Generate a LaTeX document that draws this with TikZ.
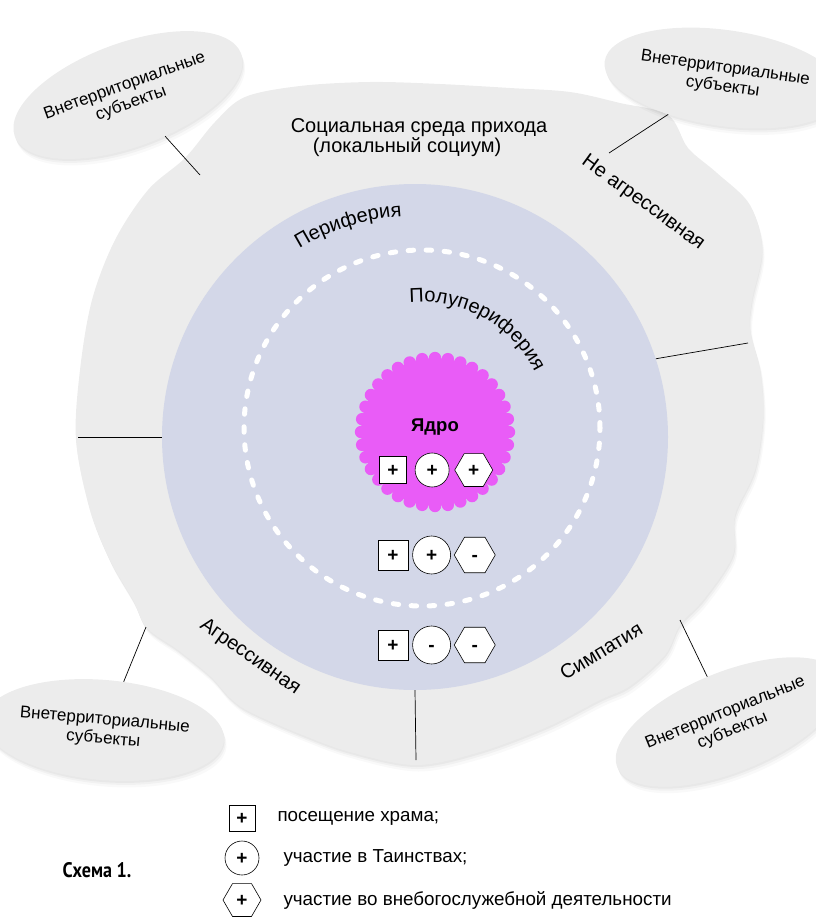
\documentclass[tikz,border=0pt]{standalone}
\usepackage{fontspec}
\setmainfont{Liberation Sans}
\newfontfamily\schemefont[FakeStretch=0.86]{PT Sans}
\usetikzlibrary{positioning,shapes.geometric,shadows,decorations.text}

\definecolor{socium}{RGB}{236,236,236}
\definecolor{periblue}{RGB}{211,215,232}
\definecolor{coremag}{RGB}{233,92,247}
\definecolor{outgray}{RGB}{236,236,236}

\begin{document}
\begin{tikzpicture}[
      x=1pt, y=1pt,
      haze/.style={general shadow={fill=black, opacity=0.035, shadow xshift=0.5pt, shadow yshift=-2pt},
                   general shadow={fill=black, opacity=0.03, shadow xshift=1.5pt, shadow yshift=-4pt},
                   general shadow={fill=black, opacity=0.025, shadow xshift=2.5pt, shadow yshift=-6.5pt}},
      extsubj/.style={ellipse, fill=outgray, haze, align=center, inner sep=0pt, font=\fontsize{17}{19}\selectfont},
      zone/.style={font=\fontsize{20}{20}\selectfont},
      sign/.style={inner sep=0pt, text height=12.5pt, text depth=0pt, font=\bfseries\fontsize{19}{19}\selectfont},
      attbox/.style={sign, rectangle, draw, fill=white, line width=0.6pt, minimum size=30pt},
      attcirc/.style={sign, circle, draw, fill=white, line width=0.6pt, minimum size=38pt},
      atthex/.style={sign, regular polygon, regular polygon sides=6, draw, fill=white, line width=0.6pt, minimum size=41pt},
      link/.style={draw, line width=0.7pt},
      legtext/.style={anchor=west, inner sep=0pt, font=\fontsize{18.8}{20}\selectfont}
  ]
  \useasboundingbox (0,0) rectangle (816,-924);
  % Social environment (cloud)
  \path[fill=socium, haze] plot[smooth cycle, tension=0.55] coordinates {
      (185,-158) (215,-122) (245,-97) (300,-86) (370,-82) (440,-84) (510,-88) (570,-92)
      (620,-103) (668,-115) (688,-148) (717,-173) (750,-205) (762,-250) (752,-300)
      (750,-330) (760,-370) (763,-417) (755,-470) (735,-515) (733,-555) (705,-598)
      (680,-625) (665,-655) (630,-686) (600,-700) (547,-727) (480,-752) (416,-765)
      (350,-752) (300,-734) (250,-712) (230,-698) (210,-676) (178,-650) (147,-628)
      (133,-600) (110,-560) (90,-510) (76,-440) (80,-370) (92,-300) (115,-240) (148,-190)};
  % Periphery
  \node[circle, fill=periblue, minimum size=506pt, inner sep=0pt] (peri) at (415,-437) {};
  % Semi-periphery
  \draw[white, line width=5pt, line cap=round, dash pattern=on 5.5pt off 12.5pt] (422,-428) circle (178);
  % Core
  \fill[coremag] (435,-432) circle (74);
  \foreach \a in {0,10,...,350}
    \fill[coremag] (435,-432) ++(\a:74) circle (6.2);
  \node[font=\bfseries\fontsize{18.5}{20}\selectfont] (core) at (435,-427) {Ядро};

  % Zone labels
  \node[zone, align=center] (soc) at (419,-138) {Социальная среда прихода\\\hspace*{-24pt}(локальный социум)};
  \path[decorate, decoration={text along path, text align=center,
        text={|\fontsize{20}{20}\selectfont|Периферия}}] (415,-437) ++(141:221) arc (141:74:221);
  \path[decorate, decoration={text along path, text align=center,
        text={|\fontsize{20}{20}\selectfont|Полупериферия}}] (422,-428) ++(112:126) arc (112:10:126);
  \node[zone, rotate=-36] (calm) at (643,-203) {Не агрессивная};
  \node[zone, rotate=-35] (aggr) at (250,-657) {Агрессивная};
  \node[zone, rotate=31] (symp) at (601,-651) {Симпатия};

  % Attribute rows
  \node[attbox, minimum size=27pt] (csq) at (393,-470) {+};
  \node[attcirc, minimum size=34pt, right=8pt of csq] (ccirc) {+};
  \node[atthex, minimum size=38pt, right=5pt of ccirc] (chex) {+};
  \node[attbox] (ssq) at (393,-555) {+};
  \node[attcirc, right=4pt of ssq] (scirc) {+};
  \node[atthex, right=3pt of scirc] (shex) {-};
  \node[attbox] (psq) at (393,-645) {+};
  \node[attcirc, right=4pt of psq] (pcirc) {-};
  \node[atthex, right=3pt of pcirc] (phex) {-};

  % Extraterritorial subjects
  \node[extsubj, minimum width=184pt, minimum height=104pt, rotate=20] (ext1) at (128,-95) {Внетерриториальные\\субъекты};
  \node[extsubj, minimum width=180pt, minimum height=96pt, rotate=-8] (ext2) at (724,-78) {Внетерриториальные\\субъекты};
  \node[extsubj, minimum width=194pt, minimum height=100pt, rotate=-5] (ext3) at (104,-730) {Внетерриториальные\\субъекты};
  \node[extsubj, minimum width=184pt, minimum height=100pt, rotate=22] (ext4) at (729,-722) {Внетерриториальные\\субъекты};

  % Connectors
  \coordinate (t1) at (200,-175);
  \coordinate (t2) at (609,-153);
  \coordinate (t3) at (146,-627);
  \coordinate (t4) at (680,-620);
  \coordinate (tl) at (78,-437);
  \coordinate (tr) at (748,-343);
  \coordinate (tb) at (416,-760);
  \path[link] (ext1) -- (t1);
  \path[link] (ext2) -- (t2);
  \path[link] (ext3) -- (t3);
  \path[link] (ext4) -- (t4);
  \path[link] (peri.180) -- (tl);
  \path[link] (peri.18) -- (tr);
  \path[link] (peri.270) -- (tb);

  % Legend
  \node[attbox, minimum size=26pt] (lsq) at (242,-818) {+};
  \node[attcirc, minimum size=34pt] (lcirc) at (242,-858) {+};
  \node[atthex, minimum size=38pt] (lhex) at (242,-900) {+};
  \node[legtext, right=22pt of lsq] (lsqtxt) {посещение храма;};
  \node[legtext, right=24pt of lcirc] (lcirctxt) {участие в Таинствах;};
  \node[legtext, right=22pt of lhex] (lhextxt) {участие во внебогослужебной деятельности};
  \node[font=\schemefont\bfseries\fontsize{21}{22}\selectfont] (scheme) at (97,-870) {Схема 1.};
\end{tikzpicture}
\end{document}
